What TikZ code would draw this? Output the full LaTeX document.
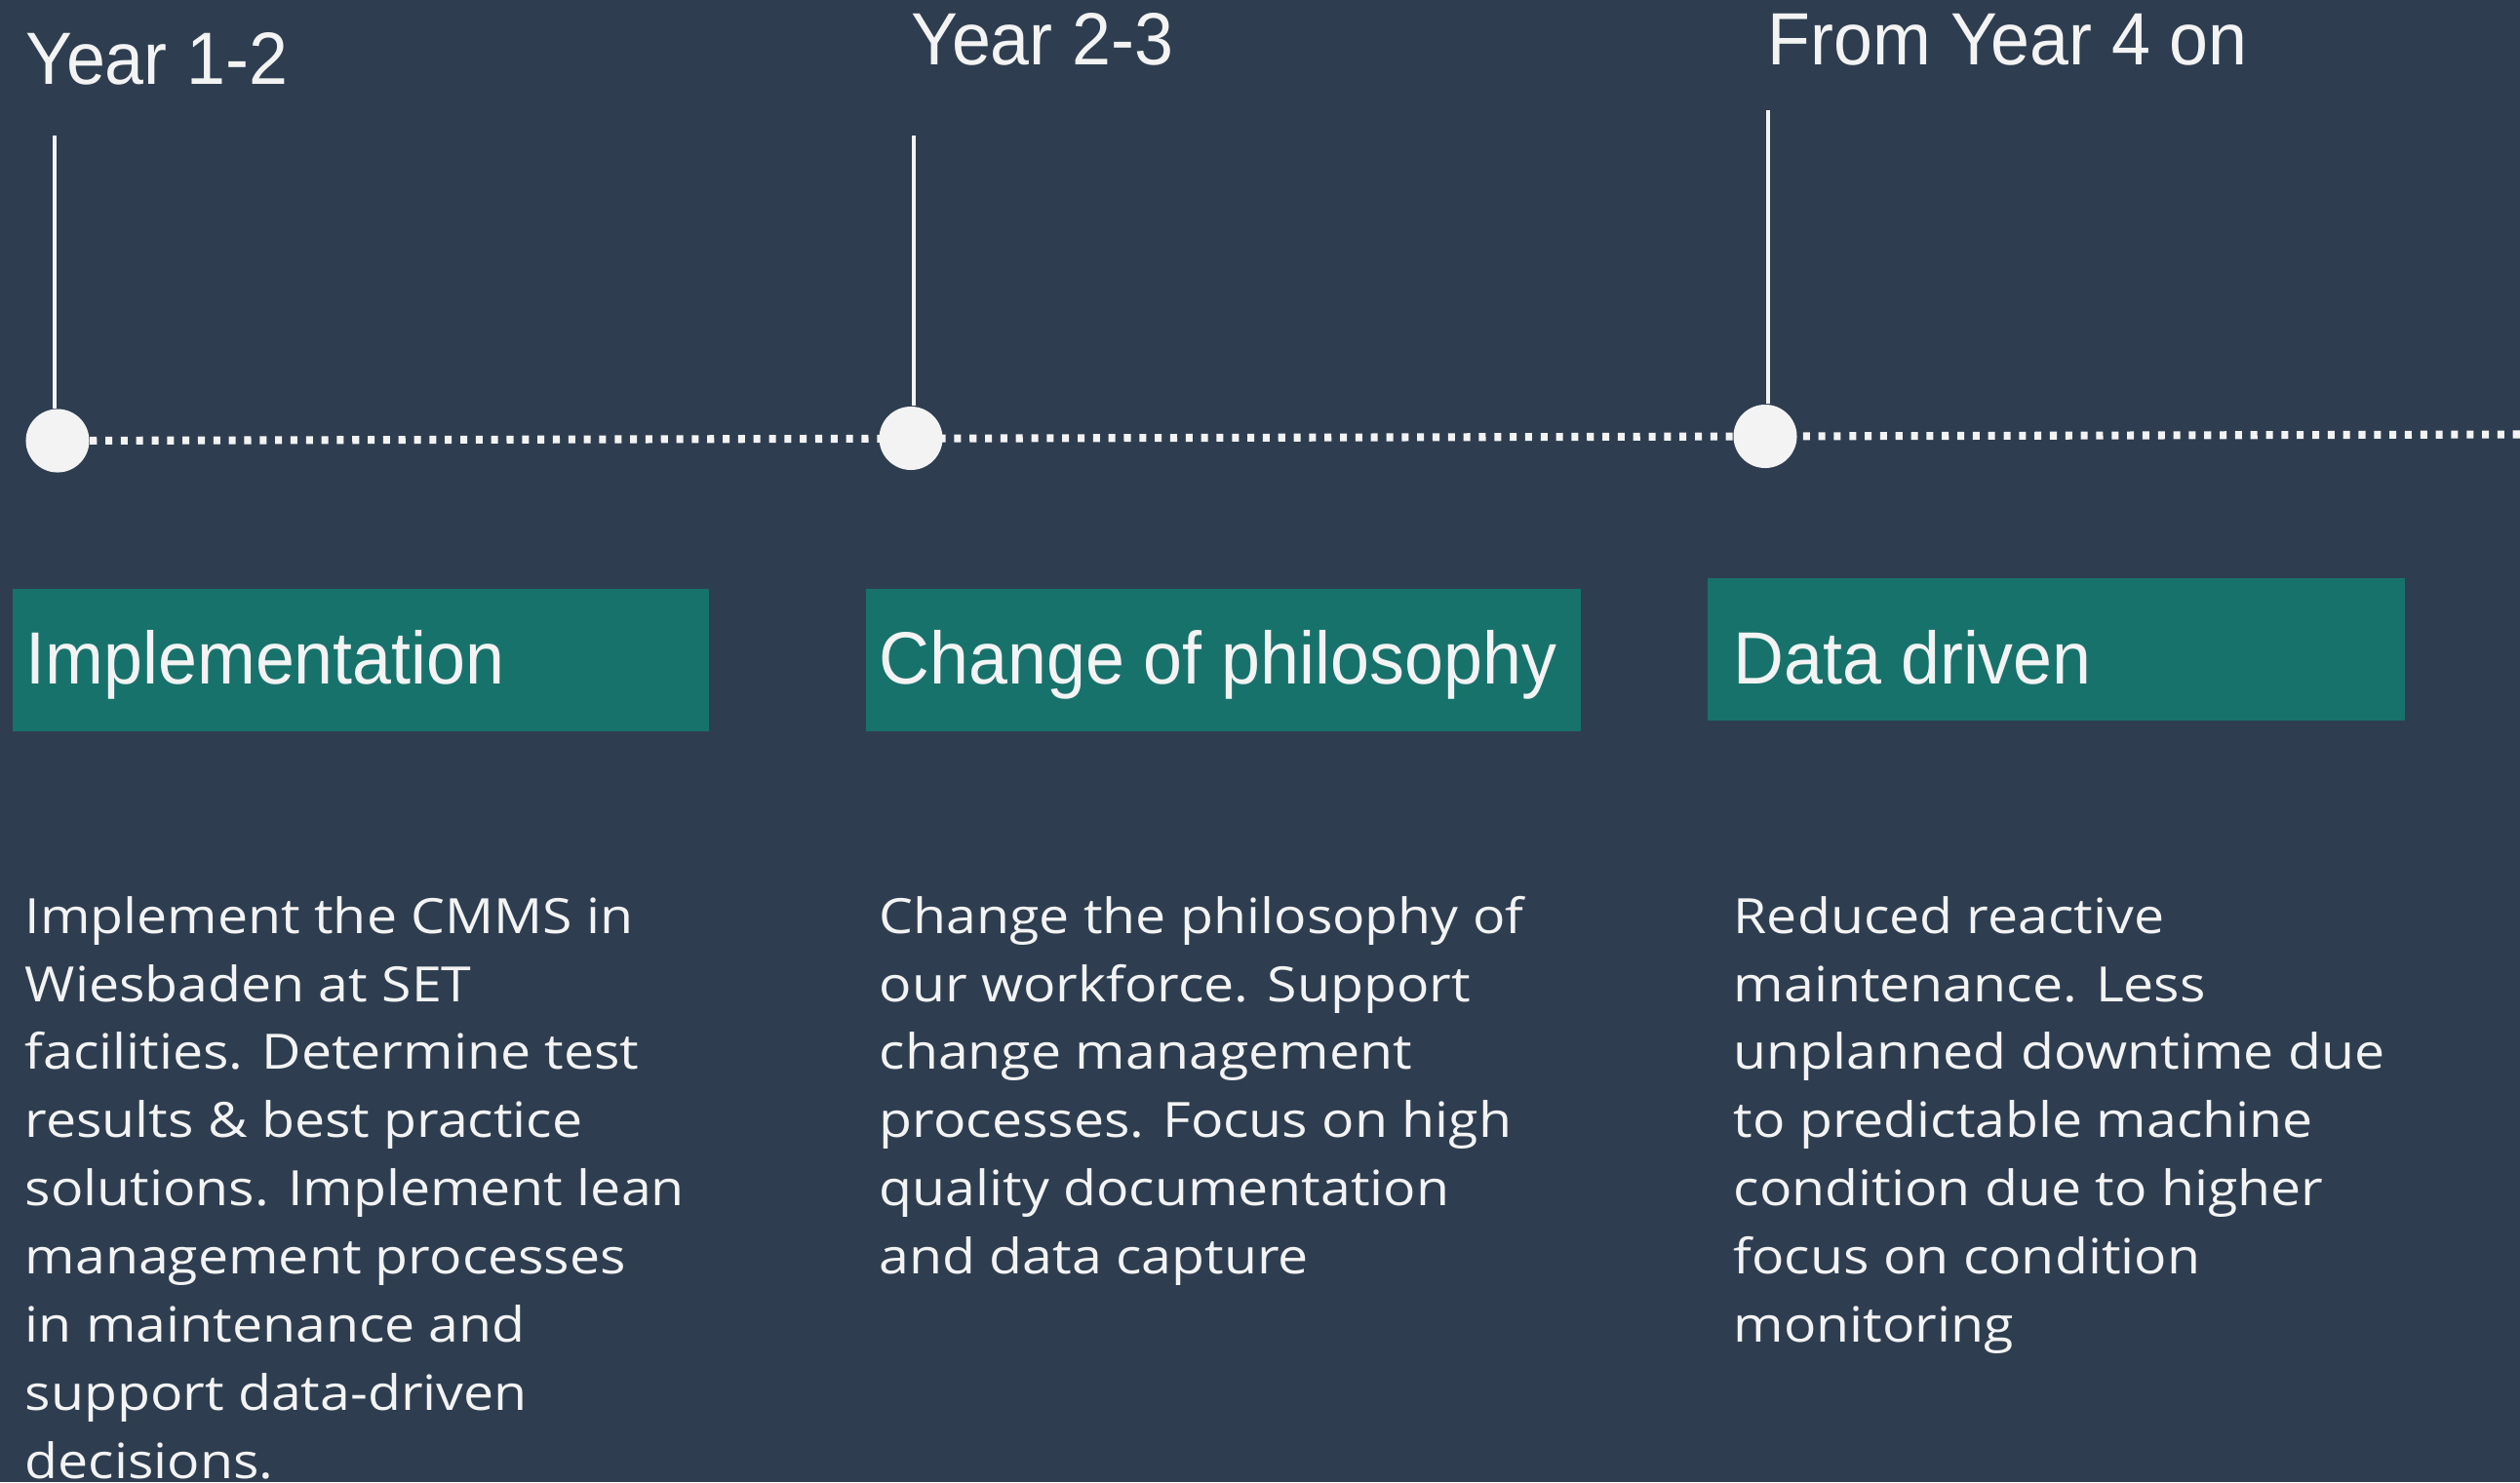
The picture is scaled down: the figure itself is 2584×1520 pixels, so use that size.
\documentclass[tikz,border=0pt]{standalone}
\usepackage{fontspec}
\setmainfont{Liberation Sans}
\newfontfamily\headfont[FakeStretch=0.945]{Liberation Sans}
\newfontfamily\bodyfont[FakeStretch=1.11]{Open Sans}
\usetikzlibrary{positioning}

\definecolor{slate}{HTML}{2E3E50}
\definecolor{phaseteal}{HTML}{18726C}
\definecolor{chalk}{HTML}{F3F3F3}

\tikzset{
  year/.style={font=\headfont\fontsize{21.6pt}{26pt}\selectfont, text=chalk, anchor=base west, inner sep=0pt},
  phase/.style={fill=phaseteal, minimum height=1.46cm, inner sep=0pt, anchor=north west},
  body/.style={font=\bodyfont\fontsize{14.2pt}{19.9pt}\selectfont, text=chalk, anchor=base west, inner sep=0pt},
  stem/.style={draw=chalk, line width=1.4pt},
  dot/.style={circle, fill=chalk, minimum size=0.65cm, inner sep=0pt},
  track/.style={draw=chalk, line width=2.3pt, dash pattern=on 2pt off 2.5pt}
}

\begin{document}
\begin{tikzpicture}[x=0.01cm, y=-0.01cm]
  \fill[slate] (0,0) rectangle (2584,1520);
  \useasboundingbox (0,0) rectangle (2584,1520);

  % timeline
  \node[dot] (d1) at (59,452) {};
  \coordinate (trackend) at (2584,445.5);
  \draw[track] (d1) -- (trackend);
  \node[dot] (d2) at (934,449.5) {};
  \node[dot] (d3) at (1810,447.5) {};

  \coordinate (s1) at (56,139);
  \coordinate (s2) at (937,139);
  \coordinate (s3) at (1813,113);
  \draw[stem] (s1) -- (s1 |- d1.north);
  \draw[stem] (s2) -- (s2 |- d2.north);
  \draw[stem] (s3) -- (s3 |- d3.north);

  \node[year] (y1) at (26,86) {Year 1-2};
  \node[year] (y2) at (934,66) {Year 2-3};
  \node[year] (y3) at (1812,66) {From Year 4 on};

  % phases
  \node[phase, minimum width=7.14cm] (p1) at (12,603) {};
  \node[phase, minimum width=7.33cm] (p2) at (887,603) {};
  \node[phase, minimum width=7.15cm] (p3) at (1750,592) {};
  \node[year] (t1) at (26,701) {Implementation};
  \node[year] (t2) at (901,701) {Change of philosophy};
  \node[year] (t3) at (1777,701) {Data driven};

  \node[body] (b1) at (25,957) {\parbox[t]{7.5cm}{\raggedright
    Implement the CMMS in\\
    Wiesbaden at SET\\
    facilities. Determine test\\
    results \& best practice\\
    solutions. Implement lean\\
    management processes\\
    in maintenance and\\
    support data-driven\\
    decisions.}};
  \node[body] (b2) at (901,957) {\parbox[t]{7.5cm}{\raggedright
    Change the philosophy of\\
    our workforce. Support\\
    change management\\
    processes. Focus on high\\
    quality documentation\\
    and data capture}};
  \node[body] (b3) at (1777,957) {\parbox[t]{7.5cm}{\raggedright
    Reduced reactive\\
    maintenance. Less\\
    unplanned downtime due\\
    to predictable machine\\
    condition due to higher\\
    focus on condition\\
    monitoring}};
\end{tikzpicture}
\end{document}
